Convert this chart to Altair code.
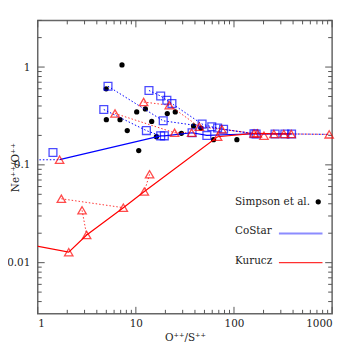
import altair as alt
import pandas as pd

# ---------------- data ----------------
simpson_x = [7.22, 4.98, 5.0, 6.9, 8.17, 10.7, 10.2, 12.5, 14.5, 16.2, 20.9, 25.2, 29.1, 38.7, 46.0, 61.9, 107]
simpson_y = [1.05, 0.60, 0.29, 0.29, 0.224, 0.14, 0.348, 0.373, 0.278, 0.194, 0.335, 0.348, 0.21, 0.25, 0.238, 0.181, 0.181]

costar_x = [1.43, 5.2, 4.71, 13.6, 17.9, 20.7, 23.3, 19.0, 12.8, 17.9, 19.5, 37.4, 47.3, 59.4, 68.1, 78.3, 52.9, 160, 168, 262, 330, 386]
costar_y = [0.134, 0.637, 0.368, 0.576, 0.505, 0.457, 0.423, 0.282, 0.224, 0.198, 0.198, 0.213, 0.261, 0.245, 0.238, 0.231, 0.200, 0.208, 0.207, 0.207, 0.207, 0.207]

kurucz_x = [1.67, 1.74, 2.83, 3.15, 2.07, 7.45, 12.2, 13.8, 6.13, 12.0, 21.9, 24.8, 37.0, 44.3, 75.2, 68.1, 160, 173, 202, 255, 322, 383, 933]
kurucz_y = [0.113, 0.045, 0.0343, 0.0192, 0.0128, 0.0365, 0.0533, 0.080, 0.335, 0.439, 0.407, 0.213, 0.213, 0.245, 0.231, 0.194, 0.210, 0.210, 0.199, 0.207, 0.207, 0.207, 0.205]

# solid model sequences
costar_solid_x = [1.67, 17.9, 19.5, 37.4, 52.9, 160, 168, 262, 330, 386]
costar_solid_y = [0.113, 0.198, 0.198, 0.213, 0.200, 0.208, 0.207, 0.207, 0.207, 0.207]
kurucz_solid_x = [0.6, 2.07, 3.15, 7.45, 12.2, 68.1, 160, 173, 255, 322, 383]
kurucz_solid_y = [0.0162, 0.0128, 0.0192, 0.0365, 0.0533, 0.194, 0.210, 0.210, 0.207, 0.207, 0.207]

# dotted connections
costar_dot_1_x = [0.5, 1.67]
costar_dot_1_y = [0.112, 0.113]
costar_dot_2_x = [5.2, 19.0, 59.4, 78.3, 160]
costar_dot_2_y = [0.637, 0.282, 0.24, 0.231, 0.208]
costar_dot_3_x = [4.71, 12.8, 17.9]
costar_dot_3_y = [0.368, 0.224, 0.198]
costar_dot_4_x = [13.6, 17.9, 20.7, 23.3, 47.3, 59.4, 68.1, 78.3, 160, 386, 933]
costar_dot_4_y = [0.576, 0.505, 0.457, 0.423, 0.261, 0.245, 0.238, 0.231, 0.208, 0.207, 0.205]

kurucz_dot_1_x = [1.74, 7.45]
kurucz_dot_1_y = [0.045, 0.0365]
kurucz_dot_2_x = [2.83, 3.15]
kurucz_dot_2_y = [0.0343, 0.0192]
kurucz_dot_3_x = [13.8, 12.2]
kurucz_dot_3_y = [0.080, 0.0533]
kurucz_dot_4_x = [6.13, 24.8, 37.0]
kurucz_dot_4_y = [0.335, 0.213, 0.213]
kurucz_dot_5_x = [12.0, 21.9, 44.3, 75.2, 160, 383, 933]
kurucz_dot_5_y = [0.439, 0.407, 0.245, 0.231, 0.210, 0.207, 0.205]

x_major = [1, 10, 100, 1000]
x_minor = [2, 3, 4, 5, 6, 7, 8, 9, 20, 30, 40, 50, 60, 70, 80, 90, 200, 300, 400, 500, 600, 700, 800, 900]
y_major = [0.01, 0.1, 1]
y_minor = [0.004, 0.005, 0.006, 0.007, 0.008, 0.009, 0.02, 0.03, 0.04, 0.05, 0.06, 0.07, 0.08, 0.09,
           0.2, 0.3, 0.4, 0.5, 0.6, 0.7, 0.8, 0.9, 2, 3]

legend_labels = ["Simpson et al.", "CoStar", "Kurucz"]
# legend sample lines, placed in data coordinates
legend_line_x = [287, 798]
legend_costar_y = 0.0199
legend_kurucz_y = 0.0100

# ---------------- chart ----------------
W, H = 297, 296
BLUE = "#0000ff"
RED = "#ff0000"
SERIF = "DejaVu Serif"
FS = 10.5

xscale = alt.Scale(type="log", domain=[1, 1000], nice=False)
yscale = alt.Scale(type="log", domain=[0.003, 3], nice=False)
xaxis = alt.Axis(values=x_major, format="~g", title="O⁺⁺/S⁺⁺", labelPadding=5,
                 titlePadding=3, titleFontWeight="normal")
yaxis = alt.Axis(values=y_major, format="~g", title="Ne⁺⁺/O⁺⁺", labelPadding=8,
                 titleX=-22, titleY=H / 2, titleAlign="center", titleBaseline="middle",
                 titleFontWeight="normal")


def X():
    return alt.X("x:Q", scale=xscale, axis=xaxis)


def Y():
    return alt.Y("y:Q", scale=yscale, axis=yaxis)


def lines_df(groups):
    rows = []
    for gid, (xs, ys) in enumerate(groups):
        for i, (a, b) in enumerate(zip(xs, ys)):
            rows.append({"x": a, "y": b, "line": gid, "order": i})
    return pd.DataFrame(rows)


dots = pd.DataFrame({"x": simpson_x, "y": simpson_y})
squares = pd.DataFrame({"x": costar_x, "y": costar_y})
tris = pd.DataFrame({"x": kurucz_x, "y": kurucz_y})

blue_solid = lines_df([(costar_solid_x, costar_solid_y)])
red_solid = lines_df([(kurucz_solid_x, kurucz_solid_y)])
blue_dot = lines_df([(costar_dot_1_x, costar_dot_1_y), (costar_dot_2_x, costar_dot_2_y),
                     (costar_dot_3_x, costar_dot_3_y), (costar_dot_4_x, costar_dot_4_y)])
red_dot = lines_df([(kurucz_dot_1_x, kurucz_dot_1_y), (kurucz_dot_2_x, kurucz_dot_2_y),
                    (kurucz_dot_3_x, kurucz_dot_3_y), (kurucz_dot_4_x, kurucz_dot_4_y),
                    (kurucz_dot_5_x, kurucz_dot_5_y)])
leg_blue = lines_df([(legend_line_x, [legend_costar_y] * 2)])
leg_red = lines_df([(legend_line_x, [legend_kurucz_y] * 2)])

layers = []

# ticks (inward) on all four sides
TICK = "#555555"
for vals, ln in [(x_major, 7), (x_minor, 4)]:
    d = pd.DataFrame({"x": vals})
    layers.append(alt.Chart(d).mark_rule(color=TICK, strokeWidth=1).encode(
        x=X(), y=alt.value(H), y2=alt.value(H - ln)))
    layers.append(alt.Chart(d).mark_rule(color=TICK, strokeWidth=1).encode(
        x=X(), y=alt.value(0), y2=alt.value(ln)))
for vals, ln in [(y_major, 7), (y_minor, 4)]:
    d = pd.DataFrame({"y": vals})
    layers.append(alt.Chart(d).mark_rule(color=TICK, strokeWidth=1).encode(
        y=Y(), x=alt.value(0), x2=alt.value(ln)))
    layers.append(alt.Chart(d).mark_rule(color=TICK, strokeWidth=1).encode(
        y=Y(), x=alt.value(W), x2=alt.value(W - ln)))

# Simpson data
layers.append(alt.Chart(dots).mark_circle(color="black", size=28, opacity=1).encode(x=X(), y=Y()))

# model lines
layers.append(alt.Chart(blue_dot).mark_line(color=BLUE, strokeWidth=1, strokeDash=[1.5, 2], clip=True).encode(
    x=X(), y=Y(), detail="line:N", order="order:Q"))
layers.append(alt.Chart(red_dot).mark_line(color=RED, strokeWidth=1, strokeDash=[1.5, 2], clip=True, opacity=0.8).encode(
    x=X(), y=Y(), detail="line:N", order="order:Q"))
layers.append(alt.Chart(blue_solid).mark_line(color=BLUE, strokeWidth=1.2, clip=True).encode(
    x=X(), y=Y(), order="order:Q"))
layers.append(alt.Chart(red_solid).mark_line(color=RED, strokeWidth=1.2, clip=True).encode(
    x=X(), y=Y(), order="order:Q"))

# model points
layers.append(alt.Chart(squares).mark_point(shape="square", color=BLUE, size=62, strokeWidth=1.3, filled=False).encode(
    x=X(), y=Y()))
layers.append(alt.Chart(tris).mark_point(shape="triangle-up", color=RED, size=72, strokeWidth=1.3, filled=False).encode(
    x=X(), y=Y()))

# legend
leg = pd.DataFrame({"label": legend_labels})
for i, yy in enumerate([183, 212.5, 242.5]):
    layers.append(alt.Chart(leg.iloc[[i]]).mark_text(align="left", baseline="middle", font=SERIF,
                                                     fontSize=FS, color="#222").encode(
        text="label:N", x=alt.value(199), y=alt.value(yy)))
layers.append(alt.Chart(leg.iloc[[0]]).mark_circle(color="black", size=28, opacity=1).encode(
    x=alt.value(283), y=alt.value(183)))
layers.append(alt.Chart(leg_blue).mark_line(color="#8c8cff", strokeWidth=2).encode(
    x=X(), y=Y(), order="order:Q"))
layers.append(alt.Chart(leg_red).mark_line(color="#ff3030", strokeWidth=1.2).encode(
    x=X(), y=Y(), order="order:Q"))

chart = alt.layer(*layers).properties(
    width=W, height=H, autosize="none",
    padding={"left": 30, "top": 11, "right": 14, "bottom": 33},
).configure_view(stroke="#666666", strokeWidth=1.5).configure_axis(
    domain=False, ticks=False, grid=False,
    labelFont=SERIF, labelFontSize=FS, labelColor="#222",
    titleFont=SERIF, titleFontSize=FS, titleColor="#222",
)

chart.save("out.html", embed_options={"renderer": "svg", "actions": False})
